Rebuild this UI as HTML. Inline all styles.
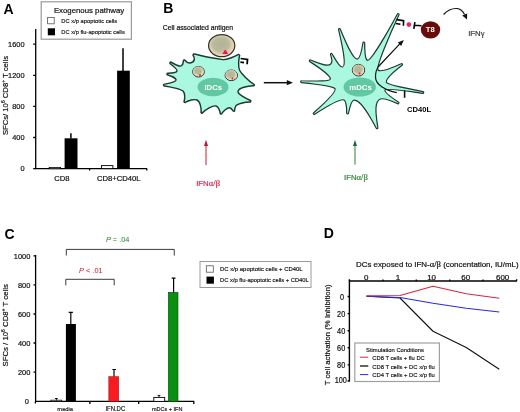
<!DOCTYPE html>
<html><head><meta charset="utf-8">
<style>
html,body{margin:0;padding:0;background:#fff;width:520px;height:412px;overflow:hidden}
svg{display:block;filter:blur(0.3px)}
text{font-family:"Liberation Sans",sans-serif;color:#111;fill:currentColor;stroke:currentColor;stroke-width:0.2px}
.b{stroke-width:0}
.s{stroke-width:0.16px;color:#111}
.b{font-weight:bold}
</style></head><body>
<svg width="520" height="412" viewBox="0 0 520 412">
<!-- ============ PANEL A ============ -->
<text x="3.4" y="13.9" class="b" font-size="14" style="color:#000">A</text>
<rect x="41.2" y="1.8" width="90.2" height="37.4" fill="#fff" stroke="#9a9a9a" stroke-width="1.2"/>
<text x="53.9" y="13.2" font-size="7.8">Exogenous pathway</text>
<rect x="47.6" y="17.4" width="6.6" height="6.4" fill="#fff" stroke="#555" stroke-width="0.8"/>
<rect x="47.8" y="28.3" width="7.2" height="7" fill="#000"/>
<text class="s" transform="translate(61.3,22.9) scale(0.95,1)" font-size="6.1">DC x/p apoptotic cells</text>
<text class="s" transform="translate(61.3,33.8) scale(0.95,1)" font-size="6.05">DC x/p flu-apoptotic cells</text>
<!-- axes -->
<g stroke="#000" stroke-width="1.3" fill="none">
<path d="M35.7,29 V168.8"/>
<path d="M35,168.7 H147.2"/>
<path d="M33.2,44.2 H35.7 M33.2,75.3 H35.7 M33.2,106.4 H35.7 M33.2,137.5 H35.7 M33.2,168.6 H35.7"/>
<path d="M89.6,168.7 V170.6 M146.8,168.7 V170.6"/>
</g>
<g font-size="7.4" text-anchor="end">
<text x="24.5" y="46.9">1600</text>
<text x="24.5" y="78">1200</text>
<text x="24.5" y="109.1">800</text>
<text x="24.5" y="140.2">400</text>
<text x="24.5" y="171.3">0</text>
</g>
<text transform="translate(7.5,135.1) rotate(-90) scale(0.962,1)" font-size="8">SFCs/ 10<tspan font-size="5.2" dy="-3">6</tspan><tspan dy="3"> CD8</tspan><tspan font-size="5" dy="-3">+</tspan><tspan dy="3"> T cells</tspan></text>
<!-- bars -->
<rect x="49.2" y="167.4" width="11.4" height="1.3" fill="#fff" stroke="#000" stroke-width="0.8"/>
<rect x="64.6" y="138.3" width="12.9" height="30.4" fill="#000"/>
<path d="M70.9,138.5 V133.2" stroke="#000" stroke-width="1.5"/>
<rect x="101.5" y="165.6" width="11.4" height="3" fill="#fff" stroke="#000" stroke-width="0.9"/>
<rect x="117.1" y="70.7" width="12.7" height="98" fill="#000"/>
<path d="M123,71 V48.2" stroke="#000" stroke-width="1.5"/>
<text x="54.3" y="180.8" font-size="7.65">CD8</text>
<text x="96.9" y="180.8" font-size="7.65">CD8+CD40L</text>

<!-- ============ PANEL B ============ -->
<text x="163.2" y="12.6" class="b" font-size="14" style="color:#000">B</text>
<text x="162.8" y="30.3" font-size="6.8">Cell associated antigen</text>

<!-- iDC cell -->
<path d="M177,71 C177.39,69.95 172.96,65.85 170.25,63.75 C169.25,63.08 170.25,61.59 171.25,62.25 C174.31,64 180.05,66.59 181,66 C182.41,65.13 183.37,62.58 183.43,61.14 C183.05,60 184.76,59.43 185.14,60.57 C186.05,61.68 188.36,63.25 190,63 C195.7,62.13 194.29,57.43 193.73,56.21 C192.3,55.49 193.39,53.35 194.81,54.07 C199.1,55.31 217.09,58.79 222.8,59.6 C226.21,60.08 235.24,56.32 237.51,54.98 C238.51,53.74 240.38,55.24 239.38,56.49 C238.74,58.77 238.02,66.89 239.5,70 C241.12,73.4 248.59,81.04 253.68,84.09 C254.83,84.42 254.34,86.15 253.19,85.82 C248,85.93 238.39,87.75 238,91.5 C237.74,94.05 245.66,98.46 250.08,100.25 C251.25,100.47 250.93,102.24 249.75,102.02 C245.06,102.15 237,103.73 235.8,106 C235.26,107.02 234.45,108.79 234.58,110.07 C234.95,111.21 233.23,111.76 232.87,110.62 C232.21,109.45 230.56,107.7 229.4,107.7 C227.04,107.7 223.35,111.23 221.9,113.36 C221.59,114.52 219.85,114.06 220.16,112.9 C219.88,110.63 218.3,106.55 216,106 C212.61,105.19 205.7,109.76 202.71,112.6 C202.17,113.67 200.56,112.86 201.1,111.79 C201.33,108.19 200.17,101.44 197,100 C194.35,98.79 188.34,100.63 185.57,102.19 C184.8,103.11 183.42,101.95 184.19,101.03 C185,98.31 185.08,93.03 183,91 C181.31,89.35 170.29,86.69 164.39,85.91 C163.19,85.9 163.22,84.1 164.41,84.11 C169.08,83.51 176.68,81.76 176,79.5 C175.57,78.07 170.74,75.84 167.77,75.01 C166.59,74.85 166.82,73.07 168.01,73.23 C171.07,73.19 176.48,72.4 177,71 Z" fill="#aaf8df" stroke="#1d3a31" stroke-width="1.45" stroke-linejoin="round"/>
<!-- apoptotic body -->
<defs>
<radialGradient id="ap" cx="0.47" cy="0.45" r="0.55">
<stop offset="0" stop-color="#b2b496"/><stop offset="0.55" stop-color="#bab99b"/><stop offset="0.8" stop-color="#dcd3b6"/><stop offset="1" stop-color="#ece3c7"/>
</radialGradient>
<radialGradient id="pk" cx="0.5" cy="0.5" r="0.5">
<stop offset="0" stop-color="#f0a0b0" stop-opacity="0.9"/><stop offset="1" stop-color="#f0c0c0" stop-opacity="0"/>
</radialGradient>
</defs>
<ellipse cx="221.7" cy="45.6" rx="13.1" ry="11.1" fill="url(#ap)" stroke="#3a3125" stroke-width="1.25"/>
<ellipse cx="225.5" cy="52" rx="6" ry="4" fill="url(#pk)"/>
<path d="M225.2,49.2 L228.2,54 L222.4,54 Z" fill="#e8194e"/>
<!-- vesicles -->
<ellipse cx="198.5" cy="71.7" rx="5.8" ry="5.3" fill="#e6dcbf" stroke="#2e2a22" stroke-width="1"/>
<ellipse cx="198.4" cy="71.4" rx="5.4" ry="4.9" fill="url(#ap)"/>
<circle cx="200" cy="75" r="1" fill="#e8194e"/>
<ellipse cx="231.3" cy="75.3" rx="6.2" ry="5.3" fill="#e6dcbf" stroke="#2e2a22" stroke-width="1"/>
<ellipse cx="231.2" cy="75" rx="5.8" ry="4.9" fill="url(#ap)"/>
<circle cx="232.5" cy="78.6" r="1" fill="#e8194e"/>
<ellipse cx="213" cy="87" rx="15.5" ry="9.3" fill="#62c7a3"/>
<text x="213.3" y="90.3" class="b" font-size="7.8" text-anchor="middle" style="color:#fff">IDCs</text>
<!-- receptor iDC -->
<path d="M240.6,58.5 L247.5,59.4 L247.1,64.3 M240.4,62.2 L244,62.6" fill="none" stroke="#000" stroke-width="1.75"/>

<!-- arrow iDC -> mDC -->
<path d="M263.8,82.7 H288" stroke="#111" stroke-width="1.5"/>
<path d="M293,82.7 L286.8,80.1 L286.8,85.3 Z" fill="#111"/>

<!-- mDC cell -->
<path d="M335,88.6 C333.54,86.32 317.64,84.23 301.54,82.56 C300.34,82.48 300.46,80.68 301.66,80.76 C316.66,81.13 330.89,81.46 330.4,78.8 C329.74,75.21 320.15,68.2 309.87,61.62 C308.82,61.06 309.66,59.47 310.72,60.03 C320.59,64.12 327.89,66.75 330.5,64.2 C332.71,62.05 332.18,59.83 330.55,54.69 C330.06,53.6 331.7,52.86 332.19,53.95 C335.7,60.09 339.47,67.58 342.5,67 C346.7,66.19 342.63,47.26 338.61,29.73 C338.25,28.59 339.97,28.05 340.33,29.19 C346.89,45.19 353.48,60.11 357.6,59 C359.96,58.36 361.6,51.19 362.93,43.02 C363.03,41.83 364.82,41.98 364.72,43.17 C364.68,51.56 365.15,59.14 367.3,60.3 C370.48,62.01 388.01,31.44 397.29,14.2 C397.83,13.13 399.44,13.94 398.9,15.01 C390.37,33.15 375.64,67.27 378,70 C380.47,72.86 390.75,68.62 401.16,63.79 C402.19,63.18 403.12,64.72 402.09,65.34 C393.13,72.2 385.25,78.93 386.5,82.5 C387.13,84.3 404.52,88.06 422.96,91.56 C424.14,91.76 423.84,93.54 422.66,93.34 C404.04,90.64 385.65,88.2 385,90 C384.14,92.36 391.1,97.28 398.44,102.08 C399.49,102.65 398.63,104.23 397.58,103.66 C389.66,100.09 382.89,98.21 380.5,99 C374.2,101.07 375.53,113.39 377.86,127.45 C378.25,128.59 376.55,129.18 376.15,128.04 C368.72,113.96 360.63,100.02 354,100.2 C351.5,100.27 349.87,106.67 348.49,113.2 C348.36,114.39 346.57,114.2 346.7,113.01 C346.73,106.53 346.13,101.3 344,100 C340.9,98.11 328.14,105.52 314.76,114.17 C313.81,114.9 312.72,113.46 313.67,112.74 C325.57,102.24 336.96,91.66 335,88.6 Z" fill="#aaf8df" stroke="#1d3a31" stroke-width="1.2" stroke-linejoin="round"/>
<ellipse cx="358.5" cy="70.2" rx="6.2" ry="5.8" fill="#e6dcbf" stroke="#2e2a22" stroke-width="1"/>
<ellipse cx="358.4" cy="69.9" rx="5.8" ry="5.4" fill="url(#ap)"/>
<circle cx="359.6" cy="73.5" r="1" fill="#e8194e"/>
<ellipse cx="359.7" cy="87" rx="16.2" ry="9.6" fill="#62c7a3"/>
<text x="360.5" y="90.3" class="b" font-size="7.8" text-anchor="middle" style="color:#fff">mDCs</text>
<!-- arrow in mDC -->
<path d="M396.8,92.6 C386,90.5 375.5,85 375.5,77 C375.5,72 376.5,69 378.5,66.5 L400.5,43.2" fill="none" stroke="#111" stroke-width="1.2"/>
<path d="M403.8,40 L397.8,42.6 L401.2,46 Z" fill="#111"/>
<path d="M404.6,90.4 V97.8" stroke="#111" stroke-width="1.6"/>
<text x="407" y="111.8" class="b" font-size="7.6" style="color:#000">CD40L</text>
<!-- receptor mDC / TCR -->
<path d="M396.6,19.6 L403.6,20.6 L403.4,25.8 M395.8,23.5 L400.4,24.2" fill="none" stroke="#000" stroke-width="1.6"/>
<circle cx="408.9" cy="24.6" r="2.3" fill="#e3226a"/>
<path d="M414.9,22.2 L413.8,28.9 M414.3,25.3 L421.5,25.8" fill="none" stroke="#000" stroke-width="1.6"/>
<ellipse cx="430.5" cy="29.85" rx="9.7" ry="8.6" fill="#6a0b0b"/>
<text x="430.2" y="32.4" class="b" font-size="7.7" text-anchor="middle" style="color:#fff">T8</text>
<!-- IFNg arrow -->
<path d="M443.6,14.5 C447.5,10.2 452.5,8.3 456.8,8.5 C460.5,8.8 463,11.2 464.6,14.6" fill="none" stroke="#111" stroke-width="1.2"/>
<path d="M467,19.6 L462.2,15.6 L467.2,13.6 Z" fill="#111"/>
<text x="468.2" y="36" font-size="7.8" style="color:#3a3a3a">IFN<tspan font-family="Liberation Serif" font-size="8.6">&#947;</tspan></text>

<!-- IFN arrows -->
<path d="M206,165.1 V145" stroke="#c01c40" stroke-width="1"/>
<path d="M206,139.8 L204,146 L208,146 Z" fill="#b81838"/>
<text x="196.2" y="186.2" font-size="7.8" style="color:#d42a4c">IFN<tspan font-family="Liberation Serif" font-size="8.6">&#945;/&#946;</tspan></text>
<path d="M355,164.6 V145" stroke="#2a8040" stroke-width="1"/>
<path d="M355,139.8 L353,146 L357,146 Z" fill="#1f6a33"/>
<text x="344" y="180.2" font-size="7.8" style="color:#38803a">IFN<tspan font-family="Liberation Serif" font-size="8.6">&#945;/&#946;</tspan></text>

<!-- ============ PANEL C ============ -->
<text x="4.4" y="238.9" class="b" font-size="14" style="color:#000">C</text>
<g stroke="#000" stroke-width="1.3" fill="none">
<path d="M35.6,255 V401.8"/>
<path d="M35,401.4 H194.2"/>
<path d="M33.5,255.85 H35.6 M33.5,284.9 H35.6 M33.5,314 H35.6 M33.5,343 H35.6 M33.5,372.1 H35.6"/>
<path d="M35.4,401.4 V403.5 M89.9,401.4 V404 M138.7,401.4 V404 M193.8,401.4 V404"/>
</g>
<g font-size="7.4" text-anchor="end">
<text x="30.3" y="258.5">1000</text>
<text x="30.3" y="287.6">800</text>
<text x="30.3" y="316.7">600</text>
<text x="30.3" y="345.7">400</text>
<text x="30.3" y="374.8">200</text>
<text x="28.9" y="403.9">0</text>
</g>
<text transform="translate(7.7,366.5) rotate(-90) scale(0.974,1)" font-size="8">SFCs / 10<tspan font-size="5.2" dy="-3">6</tspan><tspan dy="3"> CD8</tspan><tspan font-size="5.2" dy="-3">+</tspan><tspan dy="3"> T cells</tspan></text>
<!-- bars -->
<rect x="50.9" y="400.2" width="10.8" height="1.2" fill="#fff" stroke="#000" stroke-width="0.8"/>
<path d="M56.4,400.4 V398.5 M55,398.5 H57.8" stroke="#000" stroke-width="0.9"/>
<rect x="65.9" y="324" width="10" height="77.4" fill="#000"/>
<path d="M70.8,324.5 V312.4 M68.7,312.4 H72.9" stroke="#000" stroke-width="1.2"/>
<rect x="108.8" y="376.6" width="9.9" height="24.8" fill="#f81c22" stroke="#a01010" stroke-width="0.5"/>
<path d="M114,376.6 V369.5 M112.4,369.5 H116" stroke="#000" stroke-width="1.2"/>
<rect x="153.8" y="397.4" width="10.9" height="4" fill="#fff" stroke="#000" stroke-width="0.9"/>
<path d="M159,397.4 V395.4 M157.6,395.4 H160.4" stroke="#000" stroke-width="0.9"/>
<rect x="168.3" y="292.3" width="9.7" height="109.1" fill="#0a8f10" stroke="#05550a" stroke-width="0.6"/>
<path d="M173.6,292.5 V278.2 M171.7,278.2 H175.5" stroke="#000" stroke-width="1.2"/>
<g font-size="5.9" text-anchor="middle">
<text class="s" transform="translate(65.2,410.7) scale(0.95,1)" font-size="6.1">media</text>
<text class="s" transform="translate(115.3,410.7) scale(0.93,1)" font-size="6.4">IFN.DC</text>
<text class="s" x="167.2" y="410.6" font-size="5.5">mDCs + IFN</text>
</g>
<!-- brackets -->
<path d="M66.3,255.5 V249.4 H174.25 V255.5" fill="none" stroke="#3a3a3a" stroke-width="1"/>
<path d="M65.8,285.4 V279.3 H114.2 V285.4" fill="none" stroke="#3a3a3a" stroke-width="1"/>
<text x="105.9" y="242.4" font-size="7.35" style="color:#2f8a2f;stroke-width:0.05px"><tspan font-style="italic">P</tspan> = .04</text>
<text x="79" y="273" font-size="7.38" style="color:#d0223e;stroke-width:0.05px"><tspan font-style="italic">P</tspan> &lt; .01</text>
<!-- legend C -->
<rect x="200" y="261.5" width="111" height="26" fill="#fff" stroke="#9a9a9a" stroke-width="1"/>
<rect x="206.3" y="265.8" width="7" height="6.4" fill="#fff" stroke="#555" stroke-width="0.8"/>
<rect x="206.5" y="276.6" width="7.4" height="7.1" fill="#000"/>
<text class="s" x="220" y="271.3" font-size="5.95">DC x/p apoptotic cells + CD40L</text>
<text class="s" x="220" y="282.3" font-size="5.8">DC x/p flu-apoptotic cells + CD40L</text>

<!-- ============ PANEL D ============ -->
<text x="323.8" y="238.3" class="b" font-size="14" style="color:#000">D</text>
<text x="356" y="267" font-size="7.9">DCs exposed to IFN-<tspan font-family="Liberation Serif" font-size="8.6">&#945;/&#946;</tspan> (concentation, IU/mL)</text>
<g stroke="#000" stroke-width="1.4" fill="none">
<path d="M349.4,281 H517"/>
<path d="M349.4,280.4 V381.6"/>
<path d="M349.4,281 V279.3 M382.9,281 V279.6 M416.3,281 V279.6 M449.75,281 V279.6 M483,281 V279.6 M516.6,281 V279.3"/>
<path d="M347.6,296.5 H349.4 M347.6,313.6 H349.4 M347.6,330.7 H349.4 M347.6,347.8 H349.4 M347.6,364.9 H349.4 M347.6,381 H349.4"/>
</g>
<g font-size="7.4" text-anchor="middle">
<text transform="translate(366.3,280.1) scale(1.08,1)">0</text>
<text transform="translate(397.9,280.1) scale(1.08,1)">1</text>
<text transform="translate(431.6,280.1) scale(1.08,1)">10</text>
<text transform="translate(465.8,280.1) scale(1.08,1)">60</text>
<text transform="translate(502.6,280.1) scale(1.08,1)">600</text>
</g>
<g font-size="8.3" text-anchor="end">
<text transform="translate(344,299.6) scale(0.88,1)">0</text>
<text transform="translate(345.2,316.7) scale(0.88,1)">20</text>
<text transform="translate(345.2,333.8) scale(0.88,1)">40</text>
<text transform="translate(345.2,350.9) scale(0.88,1)">60</text>
<text transform="translate(345.2,368) scale(0.88,1)">80</text>
<text transform="translate(346.8,383.3) scale(0.88,1)">100</text>
</g>
<text transform="translate(329.6,385.3) rotate(-90)" font-size="7.77">T cell activation (% Inhibition)</text>
<!-- data lines -->
<g fill="none" stroke-width="1.1" stroke-linejoin="round">
<polyline points="366.5,296.3 400,298 433,331.25 466.25,347.5 499.25,369.3" stroke="#111"/>
<polyline points="366.5,296.3 400,297.5 433,303.3 466.25,308.3 499.25,312" stroke="#2a2ad8"/>
<polyline points="366.5,295.8 400,295.5 433,286.25 466.25,293.75 499.25,298.25" stroke="#d8283c"/>
</g>
<!-- legend D -->
<rect x="354.8" y="343" width="84.6" height="38.5" fill="#fff" stroke="#a0a0a0" stroke-width="1.2"/>
<text class="s" transform="translate(366.1,351.7) scale(0.95,1)" font-size="6.12">Stimulation Conditions</text>
<path d="M360,357.2 H368.3" stroke="#d8283c" stroke-width="1"/>
<path d="M360,366 H368.3" stroke="#111" stroke-width="1.3"/>
<path d="M360,374.6 H368.3" stroke="#2a2ad8" stroke-width="1"/>
<text class="s" transform="translate(372.3,360) scale(0.95,1)" font-size="6.12">CD8 T cells + flu DC</text>
<text class="s" transform="translate(372.3,368.6) scale(0.95,1)" font-size="6.18">CD8 T cells + DC x/p flu</text>
<text class="s" transform="translate(372.3,377) scale(0.95,1)" font-size="6.18">CD4 T cells + DC x/p flu</text>
</svg>
</body></html>
